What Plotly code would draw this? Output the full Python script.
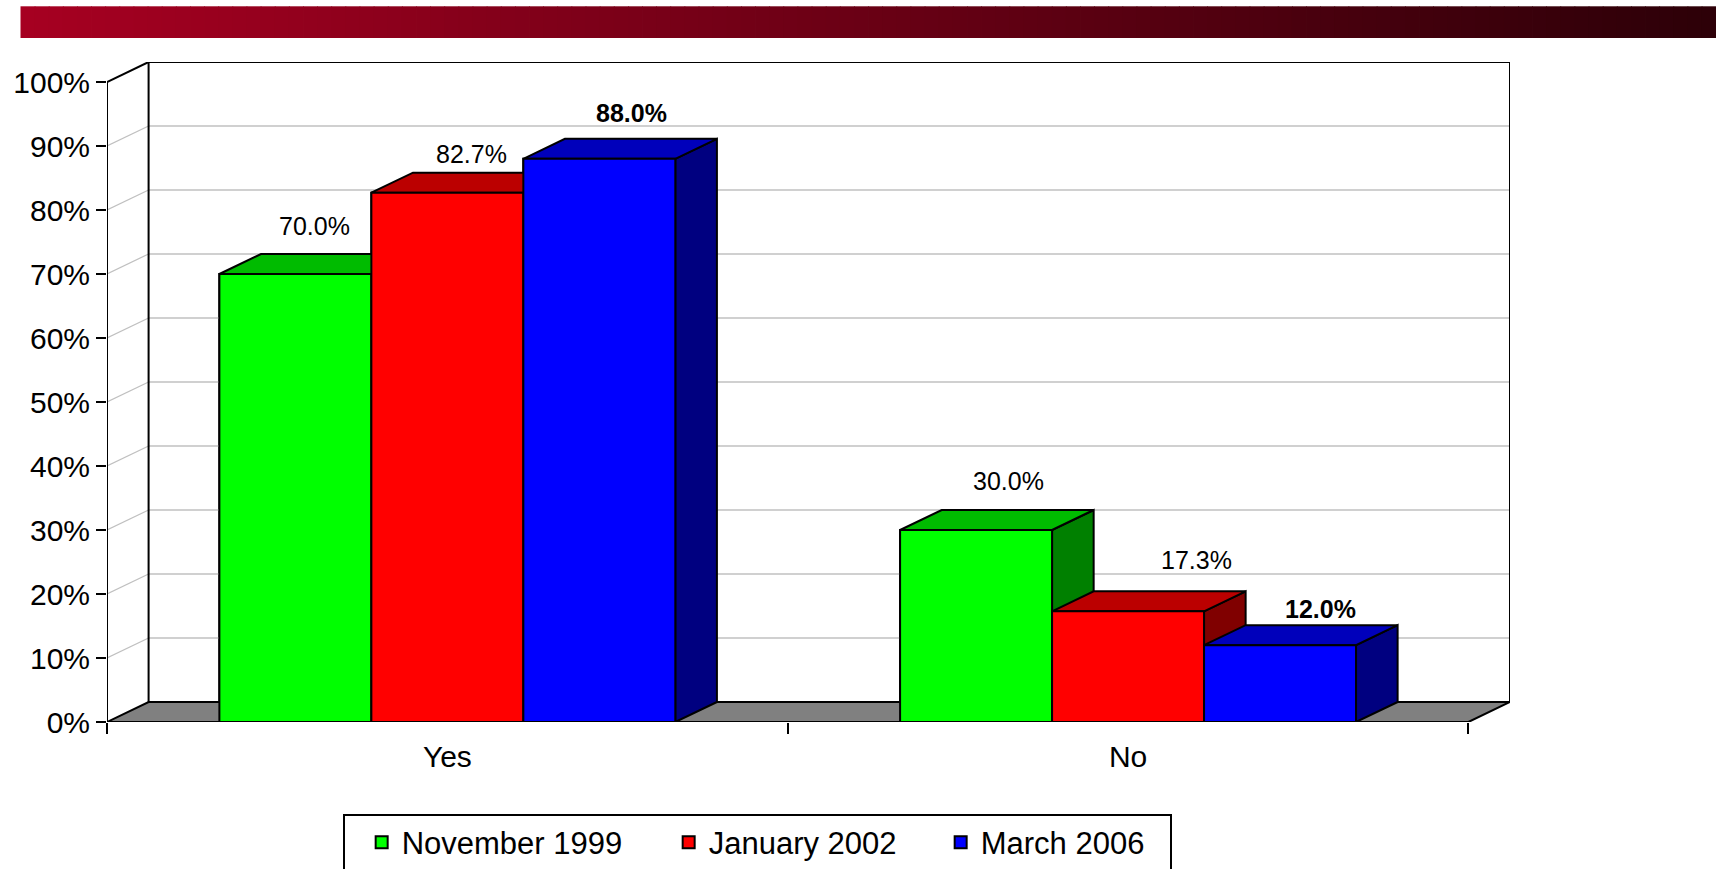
import plotly.graph_objects as go

# ---------------- data ----------------
categories = ["Yes", "No"]
series_names = ["November 1999", "January 2002", "March 2006"]
nov_1999 = [70.0, 30.0]
jan_2002 = [82.7, 17.3]
mar_2006 = [88.0, 12.0]
series_values = [nov_1999, jan_2002, mar_2006]
y_tick_values = [0, 10, 20, 30, 40, 50, 60, 70, 80, 90, 100]
y_tick_labels = ["0%", "10%", "20%", "30%", "40%", "50%", "60%", "70%", "80%", "90%", "100%"]

# ---------------- styles ----------------
front_colors = ["#00FF00", "#FF0000", "#0000FF"]
top_colors = ["#00BB00", "#BB0000", "#0000BB"]
side_colors = ["#008000", "#800000", "#000080"]
bold_series = [False, False, True]
# label nudges in pixels (x, y) per series per category
label_nudges = [
    [(-1.5, 28.5), (12, 29.3)],
    [(3, 18.5), (48, 31.3)],
    [(11, 25.5), (20, 16.2)],
]
legend_widths = [245, 210, 184]
FONT = "Arial, 'Liberation Sans', sans-serif"

W, H = 1716, 869
ML, MT = 107, 62
CAT_PX = 680.8
PX_PER_UNIT = 6.4
DX = 41.6 / CAT_PX          # depth in x units
DY = 20 / PX_PER_UNIT       # depth in y units
BAR_W = 152 / CAT_PX
X0, X1 = -0.5, 1.5
PLOT_W = (X1 + DX - X0) * CAT_PX
PLOT_H = (100 + DY) * PX_PER_UNIT
MR = W - ML - PLOT_W
MB = H - MT - PLOT_H


def paper_x(px):
    return (px - ML) / PLOT_W


def paper_y(py):
    return (MT + PLOT_H - py) / PLOT_H


fig = go.Figure()


def poly(xs, ys, fill, line_color="black", width=2):
    fig.add_trace(go.Scatter(
        x=xs + [xs[0]], y=ys + [ys[0]], mode="lines", fill="toself",
        fillcolor=fill, line=dict(color=line_color, width=width),
        showlegend=False, hoverinfo="skip"))


def seg(xs, ys, color, width):
    fig.add_trace(go.Scatter(
        x=xs, y=ys, mode="lines", line=dict(color=color, width=width),
        showlegend=False, hoverinfo="skip"))


# native bars (front faces + legend entries)
for i, (name, vals) in enumerate(zip(series_names, series_values)):
    fig.add_trace(go.Bar(
        x=[0, 1], y=vals, name=name, width=BAR_W, offset=(i - 1.5) * BAR_W,
        marker=dict(color=front_colors[i], line=dict(color="black", width=2)),
        legendwidth=legend_widths[i], hoverinfo="skip"))

# back wall gridlines and left wall diagonals
for v in y_tick_values[1:-1]:
    seg([X0 + DX, X1 + DX], [v + DY, v + DY], "#C0C0C0", 1.3)
    seg([X0, X0 + DX], [v, v + DY], "#C0C0C0", 1.3)

# floor
poly([X0, X1, X1 + DX, X0 + DX], [0, 0, DY, DY], "#808080")

# walls outline
seg([X0 + DX, X0 + DX, X1 + DX, X1 + DX], [DY, 100 + DY, 100 + DY, DY], "black", 2)
seg([X0, X0 + DX], [100, 100 + DY], "black", 2)
seg([X0, X0], [0, 100], "black", 2)

# 3D bars, drawn left-to-right so later bars hide earlier side faces
for c in range(len(categories)):
    for i in range(len(series_names)):
        v = series_values[i][c]
        xl = c + (i - 1.5) * BAR_W
        xr = xl + BAR_W
        poly([xr, xr + DX, xr + DX, xr], [0, DY, v + DY, v], side_colors[i])
        poly([xl, xr, xr + DX, xl + DX], [v, v, v + DY, v + DY], top_colors[i])
        poly([xl, xr, xr, xl], [0, 0, v, v], front_colors[i])

# front floor edge
seg([X0, X1], [0, 0], "black", 2)

# data labels
annotations = []
for i in range(len(series_names)):
    for c in range(len(categories)):
        v = series_values[i][c]
        txt = f"{v:.1f}%"
        if bold_series[i]:
            txt = f"<b>{txt}</b>"
        nx, ny = label_nudges[i][c]
        annotations.append(dict(
            x=c + (i - 1) * BAR_W + DX / 2, y=v + DY, xref="x", yref="y",
            text=txt, showarrow=False, xanchor="center", yanchor="middle",
            xshift=nx, yshift=ny, font=dict(family=FONT, size=25, color="black")))

# banner gradient (title bar)
shapes = []
N = 120
bx0, bx1 = 20.5, 1716
c0 = (166, 0, 33)
c1 = (45, 0, 8)
for k in range(N):
    t = k / (N - 1)
    col = tuple(round(c0[j] + (c1[j] - c0[j]) * t) for j in range(3))
    xa = bx0 + (bx1 - bx0) * k / N
    xb = bx0 + (bx1 - bx0) * (k + 1) / N + 0.8
    shapes.append(dict(
        type="rect", xref="paper", yref="paper",
        x0=paper_x(xa), x1=paper_x(xb), y0=paper_y(38), y1=paper_y(6.3),
        fillcolor=f"rgb{col}", line=dict(width=0), layer="above"))

fig.update_layout(
    width=W, height=H,
    margin=dict(l=ML, r=MR, t=MT, b=MB, pad=0, autoexpand=False),
    paper_bgcolor="white", plot_bgcolor="white",
    barmode="overlay",
    font=dict(family=FONT, color="black"),
    xaxis=dict(
        range=[X0, X1 + DX], tickmode="array", tickvals=[0, 1], ticktext=categories,
        ticks="", showgrid=False, zeroline=False, showline=False,
        tickfont=dict(family=FONT, size=30, color="black"), ticklabelstandoff=14,
        minor=dict(tickmode="array", tickvals=[-0.5, 0.5, 1.5], ticks="outside",
                   ticklen=11, tickwidth=2, tickcolor="black", showgrid=False),
        fixedrange=True),
    yaxis=dict(
        range=[0, 100 + DY], tickmode="array", tickvals=y_tick_values, ticktext=y_tick_labels,
        ticks="outside", ticklen=10, tickwidth=2, tickcolor="black",
        showgrid=False, zeroline=False, showline=False,
        tickfont=dict(family=FONT, size=30, color="black"), fixedrange=True),
    legend=dict(
        orientation="h", x=paper_x(342.7), y=paper_y(813.5), xanchor="left", yanchor="top",
        bordercolor="black", borderwidth=2, bgcolor="white",
        font=dict(family=FONT, size=31, color="black"), indentation=17,
        traceorder="normal"),
    annotations=annotations,
    shapes=shapes,
)

fig.write_html(
    "out.html",
    config={"displayModeBar": False},
    post_script="document.body.style.margin='0px';document.body.style.overflow='hidden';",
)
